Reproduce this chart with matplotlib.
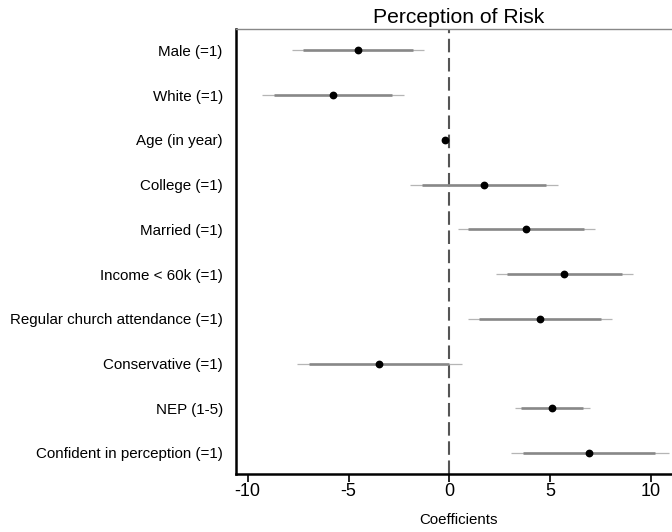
import matplotlib
matplotlib.use("Agg")
import matplotlib.pyplot as plt

plt.rcParams['font.family'] = ['Liberation Sans', 'DejaVu Sans']

labels = ["Male (=1)", "White (=1)", "Age (in year)", "College (=1)", "Married (=1)",
          "Income < 60k (=1)", "Regular church attendance (=1)", "Conservative (=1)",
          "NEP (1-5)", "Confident in perception (=1)"]
coef = [-4.53, -5.78, -0.23, 1.70, 3.80, 5.70, 4.50, -3.49, 5.09, 6.94]
ci90_lo = [-7.27, -8.72, -0.30, -1.37, 0.94, 2.85, 1.49, -6.94, 3.54, 3.67]
ci90_hi = [-1.78, -2.83, -0.16, 4.80, 6.68, 8.56, 7.51, -0.02, 6.65, 10.21]
ci95_lo = [-7.78, -9.29, -0.32, -1.95, 0.42, 2.32, 0.91, -7.57, 3.24, 3.04]
ci95_hi = [-1.25, -2.26, -0.14, 5.41, 7.24, 9.12, 8.08, 0.63, 6.96, 10.88]
xticks = [-10, -5, 0, 5, 10]

fig = plt.figure(figsize=(6.72, 5.32), dpi=100)
W, H = 672, 532
ax = fig.add_axes([236 / W, 1 - 474 / H, (682 - 236) / W, (474 - 29) / H])

ypos = list(range(1, len(labels) + 1))
ax.hlines(ypos, ci95_lo, ci95_hi, color="#b5b5b5", lw=0.9, zorder=2)
ax.hlines(ypos, ci90_lo, ci90_hi, color="#888888", lw=1.9, zorder=3)
ax.plot(coef, ypos, "o", color="black", ms=4.6, zorder=4)
ax.axvline(0, color="#555555", lw=1.5, ls=(0, (6.5, 2.7)), zorder=1)

ax.set_xlim(-10.58, 11.54)
ax.set_ylim(10.47, 0.52)
ax.set_yticks(ypos)
ax.set_yticklabels(labels, fontsize=10.9)
ax.tick_params(axis="y", length=0, pad=9.5)
ax.set_xticks(xticks)
ax.set_xticklabels([str(t) for t in xticks], fontsize=13)
ax.tick_params(axis="x", length=5.5, width=1.2, direction="out", pad=1)
ax.set_xlabel("Coefficients", fontsize=10.8, labelpad=9)
ax.set_title("Perception of Risk", fontsize=15.2, pad=4)

for s in ["left", "bottom"]:
    ax.spines[s].set_linewidth(1.8)
    ax.spines[s].set_color("black")
ax.spines["top"].set_color("#888888")
ax.spines["top"].set_linewidth(1.0)
ax.spines["right"].set_visible(False)

fig.savefig("out.png", dpi=100)
